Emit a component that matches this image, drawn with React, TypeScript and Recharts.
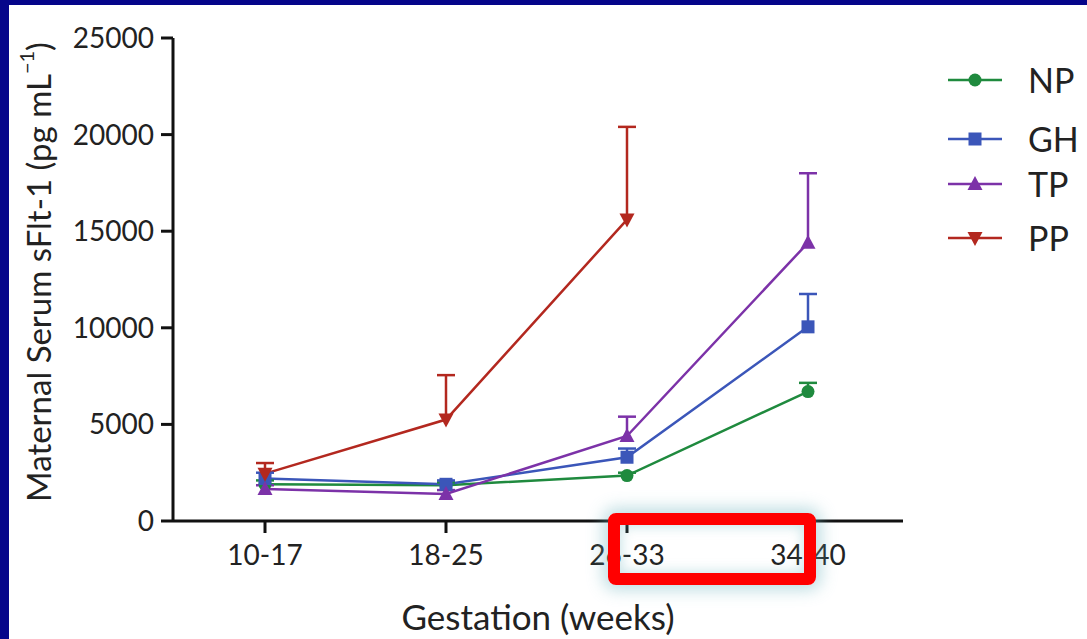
import React from "react";
import { LineChart, Line, XAxis, YAxis, ErrorBar, Legend, Label } from "recharts";

const categories = ["10-17", "18-25", "26-33", "34-40"];
const yTicks = [0, 5000, 10000, 15000, 20000, 25000];

const npMean = [1900, 1850, 2350, 6700];
const npErr = [200, 150, 150, 450];
const ghMean = [2200, 1900, 3300, 10050];
const ghErr = [300, 200, 450, 1700];
const tpMean = [1650, 1400, 4400, 14400];
const tpErr = [200, 200, 1000, 3600];
const ppMean = [2450, 5250, 15600, null];
const ppErr = [550, 2300, 4800, null];

const series = [
  { key: "NP", color: "#1f8a3e", shape: "circle", mean: npMean, err: npErr },
  { key: "GH", color: "#3b56b9", shape: "square", mean: ghMean, err: ghErr },
  { key: "TP", color: "#7c32a8", shape: "up", mean: tpMean, err: tpErr },
  { key: "PP", color: "#b3281f", shape: "down", mean: ppMean, err: ppErr },
];

// one row per category: mean, [0, +err] for the stem, mean+err for the cap
const data = categories.map((c, i) => {
  const row: any = { cat: c };
  series.forEach((s) => {
    const m = s.mean[i];
    const e = s.err[i];
    row[s.key] = m;
    row[`${s.key}e`] = m == null || e == null ? undefined : [0, e];
    row[`${s.key}top`] = m == null || e == null ? null : m + e;
  });
  return row;
});

const FONT = "Lato, 'Open Sans', sans-serif";

function Marker({ shape, color, cx, cy }: { shape: string; color: string; cx: number; cy: number }) {
  if (shape === "circle") return <circle cx={cx} cy={cy} r={6.5} fill={color} />;
  if (shape === "square") return <rect x={cx - 6.5} y={cy - 6.5} width={13} height={13} fill={color} />;
  if (shape === "up")
    return <path d={`M${cx},${cy - 8} L${cx + 7.5},${cy + 6} L${cx - 7.5},${cy + 6} Z`} fill={color} />;
  return <path d={`M${cx},${cy + 8} L${cx + 7.5},${cy - 6} L${cx - 7.5},${cy - 6} Z`} fill={color} />;
}

function makeDot(shape: string, color: string) {
  return (props: any) => {
    const { cx, cy, index } = props;
    if (cx == null || cy == null || isNaN(cy)) return <g key={`e${index}`} />;
    return (
      <g key={`d${index}`}>
        <Marker shape={shape} color={color} cx={cx} cy={cy} />
      </g>
    );
  };
}

function makeCap(color: string) {
  return (props: any) => {
    const { cx, cy, index } = props;
    if (cx == null || cy == null || isNaN(cy)) return <g key={`c${index}`} />;
    return <line key={`c${index}`} x1={cx - 9} x2={cx + 9} y1={cy} y2={cy} stroke={color} strokeWidth={2.5} />;
  };
}

const legendRows = [80, 139, 184, 238];

function LegendBox() {
  return (
    <div style={{ position: "relative", width: 140, height: 260 }}>
      {series.map((s, i) => (
        <div
          key={s.key}
          style={{ position: "absolute", left: 0, top: legendRows[i] - 17, height: 34, display: "flex", alignItems: "center" }}
        >
          <svg width={58} height={30}>
            <line x1={2} y1={15} x2={56} y2={15} stroke={s.color} strokeWidth={2.5} />
            <Marker shape={s.shape} color={s.color} cx={29} cy={15} />
          </svg>
          <span style={{ marginLeft: 24, fontFamily: FONT, fontSize: 34, color: "#222", lineHeight: "34px" }}>{s.key}</span>
        </div>
      ))}
    </div>
  );
}

function YTitle() {
  return (
    <text
      transform="translate(38, 272) rotate(-90)"
      textAnchor="middle"
      dominantBaseline="central"
      fontFamily={FONT}
      fontSize={33}
      fill="#222"
    >
      Maternal Serum sFlt-1 (pg mL
      <tspan dy={-12} fontSize={20}>−1</tspan>
      <tspan dy={12}>)</tspan>
    </text>
  );
}

export default function App() {
  return (
    <div style={{ position: "fixed", left: 0, top: 0, width: 1087, height: 639, background: "#05058a" }}>
      <div style={{ position: "absolute", left: 9, top: 5, right: 0, bottom: 0, background: "#fff" }} />
      <div style={{ position: "absolute", left: 0, top: 0 }}>
        <LineChart width={1087} height={639} data={data} margin={{ top: 38, right: 184, bottom: 58, left: 73 }}>
          <XAxis
            dataKey="cat"
            height={60}
            padding={{ left: 92, right: 95 }}
            stroke="#111"
            strokeWidth={3}
            tickSize={12}
            tickMargin={12}
            tick={{ fontFamily: FONT, fontSize: 28, fill: "#222" }}
            tickLine={{ stroke: "#111", strokeWidth: 3 }}
          >
            <Label
              value="Gestation (weeks)"
              position="bottom"
              offset={24}
              style={{ fontFamily: FONT, fontSize: 35, fill: "#222" }}
            />
          </XAxis>
          <YAxis
            width={100}
            domain={[0, 25000]}
            ticks={yTicks}
            interval={0}
            stroke="#111"
            strokeWidth={3}
            tickSize={12}
            tickMargin={7}
            tick={{ fontFamily: FONT, fontSize: 28, fill: "#222" }}
            tickLine={{ stroke: "#111", strokeWidth: 3 }}
          >
            <Label content={() => <YTitle />} />
          </YAxis>
          <Legend
            layout="vertical"
            verticalAlign="middle"
            align="center"
            wrapperStyle={{ left: 946, top: 0, width: 140, height: 260 }}
            content={() => <LegendBox />}
          />
          {series.map((s) => (
            <Line
              key={`${s.key}top`}
              dataKey={`${s.key}top`}
              stroke="none"
              legendType="none"
              dot={makeCap(s.color)}
              activeDot={false}
              isAnimationActive={false}
            />
          ))}
          {series.map((s) => (
            <Line
              key={s.key}
              dataKey={s.key}
              stroke={s.color}
              strokeWidth={2.5}
              dot={makeDot(s.shape, s.color)}
              activeDot={false}
              isAnimationActive={false}
              connectNulls={false}
            >
              <ErrorBar dataKey={`${s.key}e`} direction="y" width={0} stroke={s.color} strokeWidth={2.5} />
            </Line>
          ))}
        </LineChart>
      </div>
      <div
        style={{
          position: "absolute",
          left: 608,
          top: 513,
          width: 208,
          height: 72,
          boxSizing: "border-box",
          border: "12px solid #ff0000",
          borderRadius: 8,
          boxShadow: "0 0 16px 5px rgba(110,180,190,0.45), inset 0 0 12px 2px rgba(110,180,190,0.35)",
        }}
      />
    </div>
  );
}
